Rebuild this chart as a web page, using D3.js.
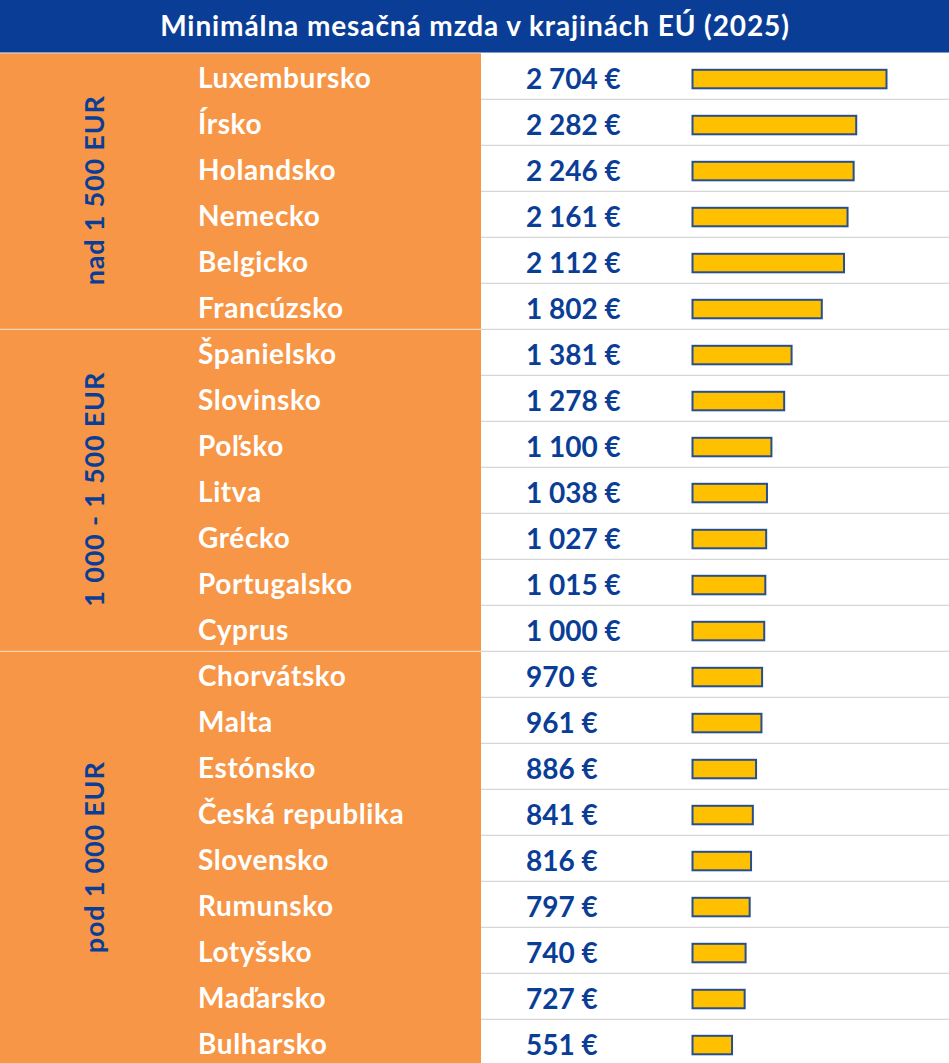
<!DOCTYPE html>
<html>
<head>
<meta charset="utf-8">
<script src="https://cdn.jsdelivr.net/npm/d3@7"></script>
<style>
  body { margin: 0; background: #fff; }
  svg { display: block; }
  text { font-family: Lato, "Open Sans", sans-serif; font-weight: bold; }
</style>
</head>
<body>
<svg id="chart" width="949" height="1063"></svg>
<script>
var title = 'Minimálna mesačná mzda v krajinách EÚ (2025)'

var countries = ['Luxembursko', 'Írsko', 'Holandsko', 'Nemecko', 'Belgicko', 'Francúzsko',
  'Španielsko', 'Slovinsko', 'Poľsko', 'Litva', 'Grécko', 'Portugalsko', 'Cyprus',
  'Chorvátsko', 'Malta', 'Estónsko', 'Česká republika', 'Slovensko', 'Rumunsko',
  'Lotyšsko', 'Maďarsko', 'Bulharsko']

var wages = [2704, 2282, 2246, 2161, 2112, 1802,
  1381, 1278, 1100, 1038, 1027, 1015, 1000,
  970, 961, 886, 841, 816, 797, 740, 727, 551]

var groupLabels = ['nad 1 500 EUR', '1 000 - 1 500 EUR', 'pod 1 000 EUR']
var groupSizes = [6, 7, 9]

var svg = d3.select('#chart')
var W = 949, rowTop = 53.3, rowH = 46

var fmt = d3.formatLocale({ decimal: ',', thousands: ' ', grouping: [3], currency: ['', ' €'] }).format(',d')

var y = d3.scaleBand()
  .domain(countries)
  .range([rowTop, rowTop + rowH * countries.length])

var x = d3.scaleLinear()
  .domain([0, 2704])
  .range([692.5, 886.5])

// title bar
svg.append('rect').attr('x', 0).attr('y', 0).attr('width', W).attr('height', 52.5).attr('fill', '#0a3e96')
svg.append('text')
  .attr('x', 475).attr('y', 35.5)
  .attr('text-anchor', 'middle')
  .attr('fill', '#fff')
  .style('font-size', '28px')
  .style('letter-spacing', '0.9px')
  .text(title)

// orange block
svg.append('rect').attr('x', 0).attr('y', rowTop).attr('width', 481).attr('height', 1063 - rowTop).attr('fill', '#f79646')

// row lines on white side
svg.selectAll('line.row')
  .data(countries.slice(1))
  .enter().append('line')
  .attr('class', 'row')
  .attr('x1', 481).attr('x2', W)
  .attr('y1', function (d) { return y(d) }).attr('y2', function (d) { return y(d) })
  .attr('stroke', '#d6d6d6').attr('stroke-width', 1.3)

// groups
var starts = [], acc = 0
groupSizes.forEach(function (n) { starts.push(acc); acc += n })

svg.selectAll('line.grp')
  .data(starts.slice(1))
  .enter().append('line')
  .attr('class', 'grp')
  .attr('x1', 0).attr('x2', 481)
  .attr('y1', function (d) { return y(countries[d]) }).attr('y2', function (d) { return y(countries[d]) })
  .attr('stroke', '#fbd3b3').attr('stroke-width', 1.3)

svg.selectAll('text.grp')
  .data(groupLabels)
  .enter().append('text')
  .attr('class', 'grp')
  .attr('transform', function (d, i) {
    var y0 = y(countries[starts[i]])
    var y1 = y(countries[starts[i] + groupSizes[i] - 1]) + rowH
    return 'translate(104,' + ((y0 + y1) / 2 - 1) + ') rotate(-90)'
  })
  .attr('text-anchor', 'middle')
  .attr('fill', '#0a3e96')
  .style('font-size', '27px')
  .style('letter-spacing', '0.8px')
  .text(function (d) { return d })

// country names
svg.selectAll('text.country')
  .data(countries)
  .enter().append('text')
  .attr('class', 'country')
  .attr('x', 198)
  .attr('y', function (d) { return y(d) + 35 })
  .attr('fill', '#fff')
  .style('font-size', '28px')
  .style('letter-spacing', '0.6px')
  .text(function (d) { return d })

// values
svg.selectAll('text.value')
  .data(wages)
  .enter().append('text')
  .attr('class', 'value')
  .attr('x', 526)
  .attr('y', function (d, i) { return y(countries[i]) + 35.5 })
  .attr('fill', '#0a3e96')
  .style('font-size', '28px')
  .text(function (d) { return fmt(d) + ' €' })

// bars
svg.selectAll('rect.bar')
  .data(wages)
  .enter().append('rect')
  .attr('class', 'bar')
  .attr('x', x(0))
  .attr('y', function (d, i) { return y(countries[i]) + 16.5 })
  .attr('width', function (d) { return x(d) - x(0) })
  .attr('height', 18.5)
  .attr('fill', '#ffc000')
  .attr('stroke', '#264f8c')
  .attr('stroke-width', 2)
</script>
</body>
</html>
